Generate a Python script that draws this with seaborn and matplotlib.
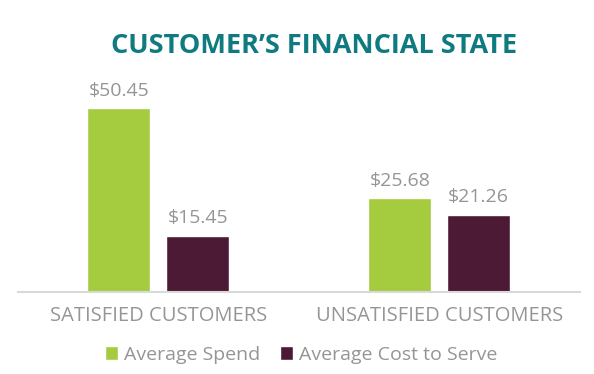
import pandas as pd
import matplotlib.pyplot as plt
import seaborn as sns

# chart values
groups = ['SATISFIED CUSTOMERS', 'UNSATISFIED CUSTOMERS']
series = ['Average Spend', 'Average Cost to Serve']
spend = [50.45, 25.68]
cost = [15.45, 21.26]

colors = ['#a5cc3f', '#4c1a34']
grey = '#959595'

data = pd.DataFrame({
    'Group': groups * 2,
    'Series': [series[0]] * 2 + [series[1]] * 2,
    'Value': spend + cost,
})

sns.set_style('white')
plt.rcParams['font.family'] = ['Open Sans', 'DejaVu Sans']

fig = plt.figure(figsize=(5.94, 3.74), dpi=100)
ax = fig.add_axes([0.030, 0.219, 0.946, 0.62])

sns.barplot(data=data, x='Group', y='Value', hue='Series', palette=colors,
            saturation=1, width=0.56, gap=0.2, ax=ax, legend=True)

for cont in ax.containers:
    ax.bar_label(cont, labels=[f'${v:.2f}' for v in cont.datavalues],
                 padding=6, color=grey, fontsize=14)

ax.set_ylim(0, 63.6)
ax.set_xlim(-0.5, 1.5)
ax.set_yticks([])
ax.set_xlabel('')
ax.set_ylabel('')
for s in ['top', 'right', 'left']:
    ax.spines[s].set_visible(False)
ax.spines['bottom'].set_color('#d9d9d9')
ax.spines['bottom'].set_linewidth(1.5)
ax.tick_params(axis='x', length=0, pad=10)
for lab in ax.get_xticklabels():
    lab.set_color(grey)
    lab.set_fontsize(14.5)

ax.legend(loc='center', bbox_to_anchor=(0.504, -0.27), ncol=2, frameon=False,
          handlelength=0.7, handleheight=0.7, handletextpad=0.3, columnspacing=1.0,
          prop={'family': 'Open Sans', 'size': 14}, labelcolor=grey)

fig.text(0.528, 0.876, 'CUSTOMER\u2019S FINANCIAL STATE', ha='center', va='center',
         color='#0f7a80', fontsize=19.5, fontweight='bold')

plt.savefig('out.png', dpi=100)
plt.close()
